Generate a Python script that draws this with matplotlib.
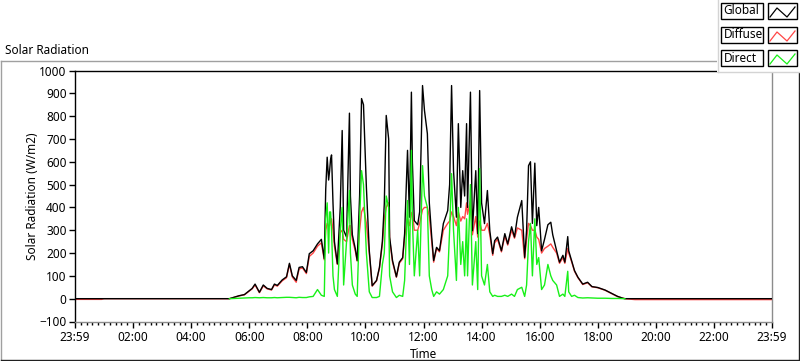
import numpy as np
import matplotlib
matplotlib.use("Agg")
import matplotlib.pyplot as plt
from matplotlib.lines import Line2D
from matplotlib.patches import Rectangle

plt.rcParams["font.family"] = ["Noto Sans", "DejaVu Sans"]
plt.rcParams["font.size"] = 8

# readings (W/m2), one row per time stamp
times = [
    "00:00", "00:55", "01:00",
    "05:19", "05:39", "05:50", "06:00", "06:06", "06:12", "06:21", "06:29",
    "06:37", "06:46", "06:52", "06:58", "07:08", "07:17", "07:23", "07:29",
    "07:37", "07:43", "07:50", "07:58", "08:04", "08:12", "08:21", "08:29",
    "08:35", "08:38", "08:41", "08:44", "08:46", "08:48", "08:50", "08:53",
    "08:56", "09:02", "09:08", "09:12",
    "09:15", "09:21", "09:27", "09:29", "09:33", "09:39", "09:43", "09:48",
    "09:52", "09:56", "10:02", "10:08", "10:14", "10:23", "10:29", "10:35",
    "10:39", "10:43", "10:48", "10:50", "10:56", "11:04", "11:10", "11:17",
    "11:21", "11:27", "11:31", "11:35", "11:37", "11:41", "11:48", "11:52",
    "11:58", "12:02", "12:08", "12:12", "12:17", "12:21", "12:27", "12:33",
    "12:41", "12:50", "12:54", "12:58", "13:02", "13:08", "13:12", "13:17",
    "13:21", "13:25", "13:29", "13:31", "13:37", "13:41", "13:48", "13:52",
    "13:56", "14:00", "14:06", "14:12", "14:17", "14:23", "14:27", "14:33",
    "14:41", "14:48", "14:54", "15:02", "15:08", "15:14", "15:23", "15:29",
    "15:33", "15:37", "15:41", "15:45", "15:50", "15:54", "15:58", "16:04",
    "16:10", "16:17", "16:23", "16:27", "16:35", "16:41", "16:48", "16:52",
    "16:58", "17:00", "17:06", "17:12", "17:19", "17:29", "17:39", "17:48",
    "18:00", "18:15", "18:29", "18:41", "18:52", "18:56",
    "19:17", "24:00",
]
global_wm2 = [
    0, 0, 0,
    0, 13, 18, 35, 45, 64, 28, 60,
    45, 40, 64, 58, 82, 96, 155, 100,
    80, 137, 140, 115, 197, 210, 240, 260,
    175, 480, 620, 520, 560, 610, 630, 420,
    250, 153, 400, 737,
    300, 270, 813, 450, 280, 220, 167, 450,
    877, 850, 488, 210, 57, 80, 137, 250,
    416, 803, 700, 270, 167, 96, 160, 180,
    285, 650, 357, 905, 600, 342, 324, 380,
    934, 825, 723, 420, 270, 167, 225, 210,
    329, 386, 500, 934, 561, 357, 767, 400,
    561, 450, 767, 400, 905, 298, 561, 285,
    912, 420, 329, 474, 298, 197, 254, 270,
    210, 285, 240, 315, 270, 357, 430, 181,
    300, 583, 600, 330, 594, 320, 400, 210,
    260, 324, 335, 280, 210, 160, 190, 160,
    272, 210, 167, 123, 94, 64, 72, 53,
    49, 38, 23, 10, 2, 0,
    0, 0,
]
diffuse_wm2 = [
    -3, -3, 0,
    0, 12, 17, 33, 43, 60, 26, 56,
    43, 38, 60, 55, 78, 92, 150, 95,
    72, 130, 135, 110, 185, 200, 230, 245,
    170, 300, 330, 320, 320, 340, 350, 300,
    230, 150, 290, 300,
    260, 250, 320, 320, 260, 210, 165, 300,
    380, 400, 330, 200, 55, 78, 135, 240,
    350, 400, 420, 260, 160, 94, 155, 175,
    270, 350, 320, 370, 380, 300, 300, 330,
    390, 400, 400, 360, 250, 160, 220, 205,
    300, 330, 340, 380, 360, 320, 380, 340,
    360, 350, 420, 370, 430, 280, 360, 270,
    340, 300, 300, 330, 280, 190, 245, 260,
    205, 275, 235, 300, 265, 310, 300, 175,
    260, 330, 320, 300, 300, 270, 260, 200,
    220, 230, 240, 225, 200, 155, 180, 155,
    220, 200, 162, 120, 92, 62, 70, 52,
    48, 37, 22, 9, 2, 0,
    -4, -4,
]
direct_wm2 = [
    np.nan, np.nan, np.nan,
    0, 2, 3, 4, 4, 5, 4, 5,
    4, 4, 5, 4, 5, 6, 6, 5,
    4, 6, 5, 5, 8, 10, 40, 15,
    10, 350, 420, 200, 380, 380, 300, 100,
    40, 10, 300, 400,
    60, 250, 474, 200, 60, 20, 10, 350,
    561, 500, 200, 30, 5, 5, 10, 150,
    200, 450, 400, 100, 30, 5, 15, 10,
    80, 430, 150, 650, 350, 100, 300, 100,
    583, 450, 400, 100, 40, 10, 30, 20,
    40, 100, 300, 548, 300, 80, 400, 150,
    250, 100, 350, 100, 500, 60, 250, 40,
    570, 100, 60, 150, 30, 10, 15, 10,
    10, 15, 10, 20, 10, 40, 50, 10,
    60, 250, 330, 100, 350, 150, 180, 40,
    60, 150, 100, 80, 60, 10, 20, 10,
    120, 30, 10, 15, 5, 3, 4, 3,
    2, 2, 1, 1, 0, 0,
    np.nan, np.nan,
]

x_ticks = list(range(0, 25, 2))
x_tick_labels = ["23:59", "02:00", "04:00", "06:00", "08:00", "10:00", "12:00",
                 "14:00", "16:00", "18:00", "20:00", "22:00", "23:59"]
y_ticks = list(range(-100, 1001, 100))

series_names = ["Global", "Diffuse", "Direct"]
series_colors = ["#000000", "#ff4646", "#18f018"]

W, H = 800, 361


def fx(px):
    return px / W


def fy(py):
    return 1 - py / H


def to_hours(t):
    hh, mm = t.split(":")
    return int(hh) + int(mm) / 60


hours = np.array([to_hours(t) for t in times])

fig = plt.figure(figsize=(W / 100, H / 100), dpi=100)
fig.patch.set_facecolor("white")

# outer panel frame
fig.add_artist(Line2D([fx(1), fx(718)], [fy(61), fy(61)], color="#a0a0a0", lw=1))
fig.add_artist(Line2D([fx(1), fx(1)], [fy(61), fy(360)], color="#a0a0a0", lw=1))
fig.add_artist(Line2D([fx(1), fx(799)], [fy(360), fy(360)], color="#202020", lw=1))
fig.add_artist(Line2D([fx(799), fx(799)], [fy(61), fy(360)], color="#202020", lw=1))

fig.text(fx(5), fy(51), "Solar Radiation", ha="left", va="center", fontsize=8.5)

ax = fig.add_axes([fx(75), fy(321.5), fx(772) - fx(75), fy(70.5) - fy(321.5)])
ax.plot(hours, diffuse_wm2, color=series_colors[1], lw=1.0, zorder=2)
ax.plot(hours, global_wm2, color=series_colors[0], lw=1.0, zorder=3)
ax.plot(hours, direct_wm2, color=series_colors[2], lw=1.0, zorder=4)

ax.set_xlim(0, 24)
ax.set_ylim(-100, 1000)
ax.set_xticks(x_ticks)
ax.set_xticklabels(x_tick_labels)
ax.set_xticks(np.arange(0, 24.01, 0.2), minor=True)
ax.set_yticks(y_ticks)
ax.tick_params(axis="both", direction="out", length=4, width=1, labelsize=8.5, color="black")
ax.tick_params(axis="x", which="minor", direction="out", length=2.5, width=1)
ax.tick_params(axis="x", pad=3)
ax.tick_params(axis="y", pad=2)
for side in ["top", "left"]:
    ax.spines[side].set_color("black")
for side in ["bottom", "right"]:
    ax.spines[side].set_color("#8c8c8c")
for s in ax.spines.values():
    s.set_linewidth(1)

fig.text(fx(32), fy(196), "Solar Radiation (W/m2)", rotation=90, ha="center", va="center", fontsize=8.5)
fig.text(fx(424), fy(354), "Time", ha="center", va="center", fontsize=8.5)

# legend block (top right)
fig.add_artist(Rectangle((fx(717), fy(72)), fx(800) - fx(717), fy(0) - fy(72),
                         facecolor="white", edgecolor="none", zorder=5))
fig.add_artist(Line2D([fx(717.5), fx(717.5)], [fy(0), fy(72)], color="#d4d4d4", lw=1, zorder=6))
fig.add_artist(Line2D([fx(717.5), fx(800)], [fy(72), fy(72)], color="#d4d4d4", lw=1, zorder=6))

row_tops = [3, 27, 50]
for name, color, top in zip(series_names, series_colors, row_tops):
    bottom = top + 16
    fig.add_artist(Rectangle((fx(721), fy(bottom)), fx(763) - fx(721), fy(top) - fy(bottom),
                             facecolor="white", edgecolor="black", lw=1, zorder=6))
    fig.text(fx(723.5), fy(top + 8), name, ha="left", va="center", fontsize=8.5, zorder=7)
    fig.add_artist(Rectangle((fx(768), fy(bottom)), fx(797) - fx(768), fy(top) - fy(bottom),
                             facecolor="white", edgecolor="black", lw=1, zorder=6))
    zx = [770, 777, 787, 795]
    zy = [top + 14, top + 5, top + 14, top + 4]
    fig.add_artist(Line2D([fx(v) for v in zx], [fy(v) for v in zy], color=color, lw=0.9, zorder=7))

fig.savefig("out.png", dpi=100, facecolor="white")
